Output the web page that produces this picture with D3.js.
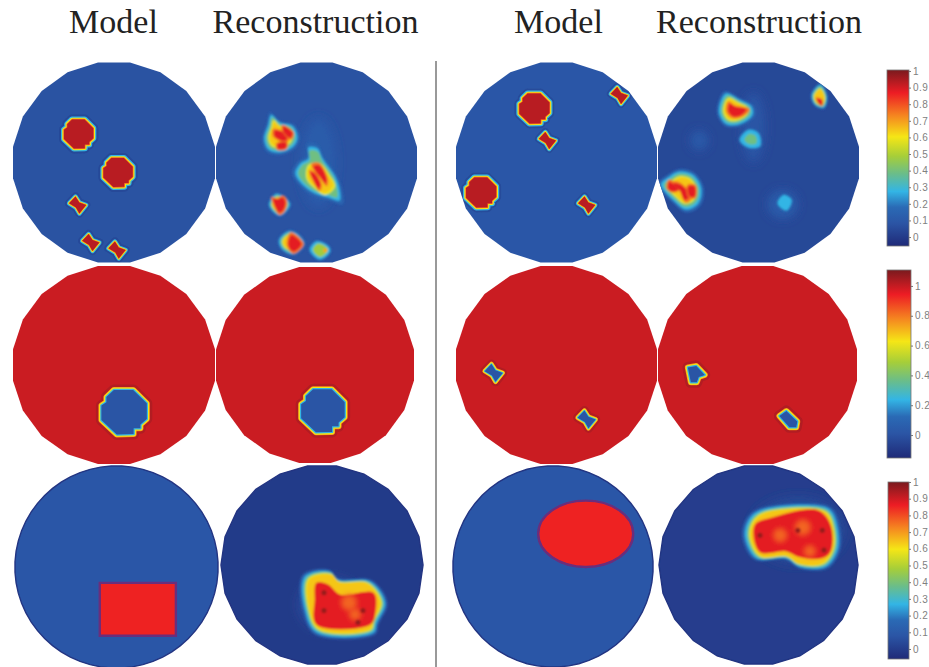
<!DOCTYPE html>
<html>
<head>
<meta charset="utf-8">
<script src="https://cdn.jsdelivr.net/npm/d3@7"></script>
<style>
  html, body { margin: 0; background: #fff; }
  svg { display: block; }
  .title { font-family: "Liberation Serif", serif; font-size: 34px; fill: #222; text-anchor: middle; }
  .cbar text { font-family: "Liberation Sans", sans-serif; font-size: 10px; fill: #808080; letter-spacing: 0.5px; }
</style>
</head>
<body>
<svg id="chart" width="929" height="667"></svg>
<script>
// colormap, t is position along the colorbar (0 bottom, 1 top)
const cmapPos = [0, 0.13, 0.22, 0.31, 0.41, 0.51, 0.62, 0.745, 0.87, 1];
const cmapCol = ['#1f2a78', '#2b55a5', '#2a6ab5', '#33b5e5', '#6abd8a', '#a6ce39', '#f5e616', '#f58220', '#ed1c24', '#7a1a1e'];

const headings = ['Model', 'Reconstruction', 'Model', 'Reconstruction'];

const ticksTop = [0, 0.1, 0.2, 0.3, 0.4, 0.5, 0.6, 0.7, 0.8, 0.9, 1];
const ticksMid = [0, 0.2, 0.4, 0.6, 0.8, 1];
const ticksBot = [0, 0.1, 0.2, 0.3, 0.4, 0.5, 0.6, 0.7, 0.8, 0.9, 1];

// background level of each disc, row by row
const bgLevel = [0.12, 0.12, 0.14, 0.09, 0.91, 0.91, 0.91, 0.91, 0.14, 0.05, 0.14, 0.06];

// shape outlines, unit size
const diskShape = [[-0.45,-1],[0.4,-1],[1,-0.4],[1,0.3],[0.72,0.55],[0.72,0.72],[0.42,0.72],[0.42,0.98],[-0.32,1],[-1,0.35],[-1,-0.3],[-0.78,-0.45],[-0.78,-0.68]];
const tieShape = [[-1,-0.2],[-0.25,-1],[0.2,-0.3],[1,0],[0.2,1],[-0.2,0.3]];

// model inclusions: disc index, centre, size, shape
const modelSpots = [
  { p: 0, x: -35, y: -28.5, r: 14.5, shape: diskShape },
  { p: 0, x: 4, y: 10, r: 14.5, shape: diskShape },
  { p: 0, x: -36, y: 42.5, r: 8.5, shape: tieShape },
  { p: 0, x: -23, y: 80, r: 8.5, shape: tieShape },
  { p: 0, x: 3, y: 87.5, r: 8.5, shape: tieShape },
  { p: 2, x: -22, y: -54, r: 15, shape: diskShape },
  { p: 2, x: -75, y: 30, r: 15, shape: diskShape },
  { p: 2, x: 62.5, y: -67, r: 8.5, shape: tieShape },
  { p: 2, x: -9, y: -22, r: 8.5, shape: tieShape },
  { p: 2, x: 30, y: 42.5, r: 8.5, shape: tieShape }
];

// blue holes in the red discs of the second row
const holeSpots = [
  { p: 4, x: 10, y: 47.7, r: 22.5, shape: diskShape },
  { p: 5, x: 8, y: 46.7, r: 22, shape: diskShape },
  { p: 6, x: -62.5, y: 8, r: 9, shape: tieShape },
  { p: 6, x: 30, y: 55, r: 9, shape: tieShape }
];
const holeOutlines = [
  { p: 7, pts: [[-70,2.5],[-61.5,1],[-53,10],[-59,12],[-61,17.5],[-67,17.5]] },
  { p: 7, pts: [[29,46.5],[40,57],[39,63],[32,63],[22,51.5]] }
];

// third row models
const rectModel = { p: 8, pts: [[-16.5,15.7],[58.5,15.7],[58.5,68],[-16.5,68]] };
const ellipseModel = { p: 10, x: 32.7, y: -32.5, rx: 47.5, ry: 33 };

// reconstructed blobs: outer contour, hot core, warm patches, dark spots, peak level
const blobs = [
  { p: 1, outer: [[-45,-47.5],[-36.5,-40],[-24,-36.5],[-19,-25],[-23,-16],[-36.5,-10],[-48,-13],[-52,-24],[-48,-37.5]],
    hot: [[[-41.5,-32],[-29,-27],[-31,-21.5],[-41.5,-26]], [[-39,-18.5],[-30.5,-20],[-30.5,-14.5],[-38,-13.5]], [[-33,-36],[-24,-30],[-26,-24.5],[-33,-31]]] },
  { p: 1, outer: [[-8,-15],[1,-14],[6,-4],[18.5,14],[23,27.5],[23,38],[12,35],[-1.5,31],[-13,23],[-21,11],[-16,1],[-8,-4]],
    inner: [[-8,2.5],[3.5,1],[12,11],[18.5,24],[8.5,32.5],[-1.5,26],[-10,16]],
    hot: [[[-3,4],[3,3],[10,16],[9,21],[4,15]], [[-6,10],[-2,11],[4,22],[2,26],[-3,18]]] },
  { p: 1, outer: [[-39.8,31.5],[-26.5,41.5],[-36.5,53],[-47,42.5]],
    hot: [[[-43,36],[-39,37],[-34,35],[-31,39],[-33,47.5],[-37,50],[-40,46]]] },
  { p: 1, outer: [[-28,69],[-20,71],[-12.5,81],[-23,91.5],[-34.5,86],[-37,77.5]],
    hot: [[[-25,72.5],[-15,81.5],[-23,89],[-28,82.5]]] },
  { p: 1, outer: [[0,79],[12,84],[13.5,89],[3.5,97],[-6.5,87.5]], peak: 0.5,
    hot: [[[7,86.5],[11,86.5],[10,89.5],[7,89.5]]] },
  { p: 3, outer: [[-32,-69],[-18.5,-62.5],[-7,-56],[-6,-47.5],[-18.5,-38.5],[-32,-38.5],[-39,-49],[-37,-62.5]],
    hot: [[[-28.5,-59],[-23.5,-56],[-12,-53],[-17,-47.5],[-25,-46],[-30,-51]]] },
  { p: 3, outer: [[-10,-32.5],[0,-29],[1.5,-16.5],[-10,-15],[-18.5,-22.5]], peak: 0.45, hot: [] },
  { p: 3, outer: [[61.5,-77.5],[68,-66],[65,-55],[56.5,-57.5],[53,-67.5]],
    hot: [[[58,-64],[63,-62.5],[63,-57.5],[60,-59]]] },
  { p: 3, outer: [[-97,22],[-88.5,14],[-78.5,9],[-65,12.5],[-57,26],[-60,41],[-72,47],[-85,37.5]],
    hot: [[[-88.5,19],[-78.5,26],[-85,29],[-90,26]], [[-85,21],[-76.8,22.5],[-68.5,34],[-73.5,37.5],[-78.5,27.5]], [[-70,24],[-63.5,24],[-63.5,34],[-68.5,34]]] },
  { p: 3, outer: [[25,32.5],[33,37.5],[28,48],[19,41]], peak: 0.32, hot: [] },
  { p: 9, outer: [[-17,11.7],[8,6.7],[16.3,15],[48,16.7],[63,38.3],[54.7,58.3],[51.3,68.3],[-5.3,68.3],[-17,45]], tight: true,
    hot: [[[-5.3,18.3],[6.3,20],[18,30],[51.3,28.3],[53,48.3],[48,60],[-5.3,60],[-7,35]]],
    warm: [[27,38,8],[33,50,6]],
    dark: [[2,28],[2,46],[41,46],[36,58]] },
  { p: 11, outer: [[-10,-45],[1.5,-55],[58,-60],[73,-55],[80,-38],[80,-15],[68,1.7],[41.5,1.7],[28,-6.7],[-1.8,-6.7],[-13.5,-28.3]], tight: true,
    hot: [[[-3.5,-40],[15,-48],[60,-55],[73,-40],[73,-14],[64,-7],[41.5,-8.3],[28,-14],[1.5,-13.3]]],
    warm: [[22,-30,7],[45,-38,8],[52,-14,6]],
    dark: [[64.8,-35],[66.5,-15],[1.5,-30],[40,-35]] }
];

// faint haze around the reconstructions: disc, centre, radii, level
const haze = [
  { p: 1, x: 2, y: 0, rx: 18, ry: 45, level: 0.16 },
  { p: 3, x: -59, y: -22, rx: 9, ry: 10, level: 0.15 },
  { p: 3, x: 24, y: 42, rx: 15, ry: 14, level: 0.16 },
  { p: 3, x: -5, y: -35, rx: 12, ry: 35, level: 0.13 },
  { p: 9, x: 8, y: 40, rx: 32, ry: 28, level: 0.1 },
  { p: 11, x: 40, y: -35, rx: 48, ry: 34, level: 0.09 }
];

// layout only, pixel boxes of the discs and colorbars
const discBoxes = [
  [114,162.5,101,100,20], [316.5,162.5,100.5,100,20], [556.5,162.5,100.5,100,20], [758.5,162.5,100.5,100,20],
  [114,365,101,99,20], [315,365,99,98,20], [556.5,365,100.5,99,20], [757.5,365,99.5,99,20],
  [116.5,567,101.5,101,60], [322,565,100,99,22], [553,566.5,100,100.5,60], [758.5,565,98.5,99,22]
];
const headingX = [113.5, 315.5, 558.5, 759];
const barBoxes = [
  { x: 887, w: 22, y0: 246, y1: 70, v0: -0.054, v1: 1.006, ticks: ticksTop, fmt: d3.format('.1~f') },
  { x: 887, w: 24, y0: 458, y1: 270, v0: -0.154, v1: 1.107, ticks: ticksMid, fmt: d3.format('.1~f') },
  { x: 888, w: 21, y0: 659, y1: 482, v0: -0.06, v1: 1, ticks: ticksBot, fmt: d3.format('.1~f') }
];

const cmap = d3.scaleLinear().domain(cmapPos).range(cmapCol).interpolate(d3.interpolateRgb);

const svg = d3.select('#chart');
const defs = svg.append('defs');

function addBlur(id, std, pad) {
    defs.append('filter').attr('id', id)
        .attr('x', -pad).attr('y', -pad).attr('width', 1 + 2 * pad).attr('height', 1 + 2 * pad)
        .append('feGaussianBlur').attr('stdDeviation', std);
}
addBlur('soft', 0.5, 0.05);
addBlur('softer', 0.7, 0.05);
addBlur('hazy', 5, 0.5);
addBlur('blobby', 1.1, 0.3);
addBlur('patch', 2.5, 0.8);

const grad = defs.append('linearGradient').attr('id', 'jet').attr('x1', 0).attr('y1', 1).attr('x2', 0).attr('y2', 0);
grad.selectAll('stop').data(cmapPos).join('stop')
    .attr('offset', d => d)
    .attr('stop-color', (d, i) => cmapCol[i]);

// titles
svg.selectAll('text.title').data(headings).join('text')
    .attr('class', 'title')
    .attr('x', (d, i) => headingX[i])
    .attr('y', 33)
    .text(d => d);

// divider
svg.append('line').attr('x1', 436).attr('x2', 436).attr('y1', 61).attr('y2', 667)
    .attr('stroke', '#777').attr('stroke-width', 1.5);

const closed = d3.line().curve(d3.curveLinearClosed);
const smooth = d3.line().curve(d3.curveCatmullRomClosed);

function shrink(pts, k) {
    const cx = d3.mean(pts, d => d[0]), cy = d3.mean(pts, d => d[1]);
    return pts.map(d => [cx + (d[0] - cx) * k, cy + (d[1] - cy) * k]);
}

function discGroup(i) {
    const [cx, cy, rx, ry, sides] = discBoxes[i];
    const sx = d3.scaleLinear().domain([-100, 100]).range([cx - rx, cx + rx]);
    const sy = d3.scaleLinear().domain([-100, 100]).range([cy - ry, cy + ry]);
    const outline = d3.range(sides).map(k => {
        const a = (k + 0.5) * 2 * Math.PI / sides;
        return [sx(100 * Math.sin(a) / Math.cos(Math.PI / sides)), sy(-100 * Math.cos(a) / Math.cos(Math.PI / sides))];
    });
    defs.append('clipPath').attr('id', 'disc' + i).append('path').attr('d', closed(outline));

    const outer = svg.append('g').attr('filter', i >= 8 ? 'url(#softer)' : 'url(#soft)');
    const g = outer.append('g').attr('clip-path', `url(#disc${i})`);
    g.append('rect')
        .attr('x', cx - rx - 5).attr('y', cy - ry - 5)
        .attr('width', 2 * rx + 10).attr('height', 2 * ry + 10)
        .attr('fill', cmap(bgLevel[i]));
    // last row discs are darker right at the rim
    const rim = outer.append('path').attr('d', closed(outline)).attr('fill', 'none');
    if (i >= 8) rim.attr('stroke', cmap(0.03)).attr('stroke-width', 1.4);
    return { g, sx, sy };
}

const panels = discBoxes.map((d, i) => discGroup(i));

const toPath = (p, pts) => pts.map(d => [panels[p].sx(d[0]), panels[p].sy(d[1])]);

function spotPoints(s) {
    return s.shape.map(d => [s.x + d[0] * s.r, s.y + d[1] * s.r]);
}

// strokes drawn wide to narrow give the colored rings of a sharp edge
function drawRings(g, d, rings, fillLevel) {
    rings.forEach(r => {
        g.append('path').attr('d', d)
            .attr('fill', 'none')
            .attr('stroke', cmap(r.level))
            .attr('stroke-opacity', r.opacity || 1)
            .attr('stroke-width', r.width)
            .attr('stroke-linejoin', 'round');
    });
    g.append('path').attr('d', d).attr('fill', cmap(fillLevel));
}

const redRings = [
    { level: 0.03, width: 10, opacity: 0.3 },
    { level: 0.31, width: 6 },
    { level: 0.62, width: 3.6 },
    { level: 0.78, width: 1.4 }
];
const redRingsThin = [
    { level: 0.03, width: 8, opacity: 0.3 },
    { level: 0.31, width: 4.4 },
    { level: 0.62, width: 2.4 },
    { level: 0.78, width: 0.9 }
];
const blueRings = [
    { level: 1, width: 11, opacity: 0.3 },
    { level: 0.72, width: 6 },
    { level: 0.62, width: 4.6 },
    { level: 0.31, width: 2.4 }
];
const blueRingsThin = [
    { level: 1, width: 9, opacity: 0.3 },
    { level: 0.72, width: 4.6 },
    { level: 0.62, width: 3.4 },
    { level: 0.31, width: 1.6 }
];

modelSpots.forEach(s => {
    const rings = s.shape === tieShape ? redRingsThin : redRings;
    drawRings(panels[s.p].g, closed(toPath(s.p, spotPoints(s))), rings, 0.93);
});
holeSpots.forEach(s => {
    const rings = s.shape === tieShape ? blueRingsThin : blueRings;
    drawRings(panels[s.p].g, closed(toPath(s.p, spotPoints(s))), rings, 0.13);
});
holeOutlines.forEach(s => {
    drawRings(panels[s.p].g, closed(toPath(s.p, s.pts)), blueRings, 0.13);
});

// third row models have a purple edge
panels[rectModel.p].g.append('path')
    .attr('d', closed(toPath(rectModel.p, rectModel.pts)))
    .attr('fill', cmap(0.86)).attr('stroke', '#6b2d7b').attr('stroke-width', 2.4);
const em = panels[ellipseModel.p];
em.g.append('ellipse')
    .attr('cx', em.sx(ellipseModel.x)).attr('cy', em.sy(ellipseModel.y))
    .attr('rx', em.sx(ellipseModel.x + ellipseModel.rx) - em.sx(ellipseModel.x))
    .attr('ry', em.sy(ellipseModel.y + ellipseModel.ry) - em.sy(ellipseModel.y))
    .attr('fill', cmap(0.86)).attr('stroke', '#6b2d7b').attr('stroke-width', 2.4);

// haze sits under the blobs
haze.forEach(h => {
    const pn = panels[h.p];
    pn.g.append('ellipse')
        .attr('cx', pn.sx(h.x)).attr('cy', pn.sy(h.y))
        .attr('rx', pn.sx(h.x + h.rx) - pn.sx(h.x))
        .attr('ry', pn.sy(h.y + h.ry) - pn.sy(h.y))
        .attr('fill', cmap(h.level))
        .attr('filter', 'url(#hazy)');
});

blobs.forEach(b => {
    const g = panels[b.p].g.append('g').attr('filter', 'url(#blobby)');
    const peak = b.peak || 1;
    const inner = b.inner || shrink(b.outer, b.tight ? 0.92 : 0.74);
    const layer = (pts, level) => g.append('path')
        .attr('d', smooth(toPath(b.p, pts)))
        .attr('fill', cmap(level));
    const dot = (d, r, level) => g.append('circle')
        .attr('cx', panels[b.p].sx(d[0])).attr('cy', panels[b.p].sy(d[1]))
        .attr('r', r).attr('fill', cmap(level));

    layer(shrink(b.outer, b.tight ? 1.06 : 1.15), 0.2);
    layer(b.outer, Math.min(0.31, peak));
    if (peak > 0.32) layer(shrink(b.outer, b.tight ? 0.96 : peak > 0.5 ? 0.88 : 0.6), Math.min(0.42, peak));
    if (peak > 0.45) layer(inner, Math.min(0.6, peak));
    if (peak > 0.6) layer(shrink(inner, b.tight ? 0.96 : 0.85), 0.66);
    b.hot.forEach(h => {
        if (peak > 0.6) {
            layer(shrink(h, b.tight ? 1.02 : 1.3), 0.76);
            layer(h, 0.88);
        } else {
            layer(h, 0.7);
        }
    });
    (b.warm || []).forEach(d => dot(d, d[2], 0.78).attr('filter', 'url(#patch)'));
    (b.dark || []).forEach(d => dot(d, 2.6, 0.97));
});

// colorbars
barBoxes.forEach(b => {
    const y = d3.scaleLinear().domain([b.v0, b.v1]).range([b.y0, b.y1]);
    const g = svg.append('g').attr('class', 'cbar');
    g.append('rect')
        .attr('x', b.x).attr('y', y(b.v1))
        .attr('width', b.w).attr('height', y(b.v0) - y(b.v1))
        .attr('fill', 'url(#jet)')
        .attr('stroke', '#777').attr('stroke-width', 0.8);
    const axis = d3.axisRight(y).tickValues(b.ticks).tickFormat(b.fmt).tickSize(2).tickPadding(2);
    const ax = g.append('g').attr('transform', `translate(${b.x + b.w},0)`).call(axis);
    ax.select('.domain').remove();
    ax.selectAll('line').attr('stroke', '#777');
});
</script>
</body>
</html>
